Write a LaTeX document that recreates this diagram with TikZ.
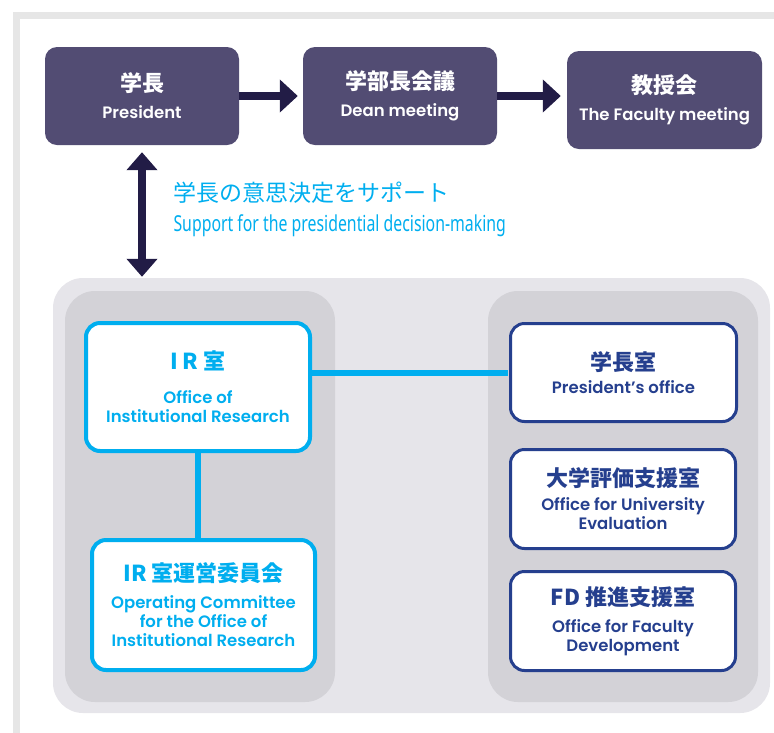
\documentclass[tikz,border=0pt]{standalone}
\usepackage{fontspec}
\setmainfont{Poppins}[BoldFont={Poppins SemiBold}]
\newfontfamily\jp{Noto Sans CJK JP}
\newfontfamily\narrow[FakeStretch=0.72]{Noto Sans}
\usetikzlibrary{arrows.meta}

\definecolor{boxpurple}{HTML}{524C73}
\definecolor{arrownavy}{HTML}{221C46}
\definecolor{ircyan}{HTML}{00AEEF}
\definecolor{officenavy}{HTML}{253F8E}
\definecolor{panellight}{HTML}{E6E5EA}
\definecolor{paneldark}{HTML}{D3D2D7}
\definecolor{framegray}{HTML}{E6E6E6}

\newcommand\jt[1]{{\jp\bfseries\fontsize{22}{24}\selectfont #1}}

\tikzset{
    topbox/.style={fill=boxpurple, text=white, rounded corners=12pt, align=center,
        minimum width=194pt, minimum height=98pt, inner sep=0pt,
        font=\bfseries\fontsize{16.5}{19}\selectfont},
    irbox/.style={draw=ircyan, line width=4pt, fill=white, text=ircyan, rounded corners=14pt,
        align=center, inner sep=0pt, font=\bfseries\fontsize{16.5}{19}\selectfont},
    officebox/.style={draw=officenavy, line width=3pt, fill=white, text=officenavy,
        rounded corners=14pt, align=center, inner sep=0pt,
        minimum width=226pt, minimum height=98pt, font=\bfseries\fontsize{16.5}{19}\selectfont},
    panel/.style={rounded corners=30pt, inner sep=0pt},
    bigarrow/.style={arrownavy, line width=8pt, -{Triangle[length=18pt,width=32pt]}},
    irline/.style={ircyan, line width=6pt},
}

\begin{document}
\begin{tikzpicture}[x=1pt,y=-1pt]
    \useasboundingbox (0,0) rectangle (774,732);

    % outer frame
    \draw[framegray, line width=7pt] (16.5,15.5) rectangle (800,760);

    % top row
    \node[topbox] (pres) at (142,96) {\jt{学長}\\[8pt]President};
    \node[topbox] (dean) at (400,96) {\jt{学部長会議}\\[8pt]Dean meeting};
    \node[topbox, minimum width=195pt] (fac) at (664.5,100) {\jt{教授会}\\[8pt]The Faculty meeting};

    \draw[bigarrow, shorten >=5pt] (pres.east) -- (dean.west);
    \draw[bigarrow, shorten >=6pt] (dean.east) -- (dean.east -| fac.west);

    % grey panels
    \node[panel, fill=panellight, minimum width=717pt, minimum height=435pt] (outer) at (411.5,495.5) {};
    \node[panel, fill=paneldark, minimum width=270pt, minimum height=411pt] (leftp) at (200,496.5) {};
    \node[panel, fill=paneldark, minimum width=270pt, minimum height=411pt] (rightp) at (623,496.5) {};

    % support for the president
    \draw[bigarrow, {Triangle[length=18pt,width=30pt]}-{Triangle[length=18pt,width=30pt]},
        shorten <=7pt, shorten >=1pt] (pres.south) -- (pres.south |- outer.north);
    \node[anchor=west, text=ircyan, font=\jp\fontsize{23}{25}\selectfont] (supjp) at (170,193)
        {学長の意思決定をサポート};
    \node[anchor=west, text=ircyan, font=\narrow\fontsize{22}{24}\selectfont] (supen) at (170,226)
        {Support for the presidential decision-making};

    % IR side
    \node[irbox, minimum width=224pt, minimum height=128pt] (ir) at (198,387)
        {\jt{I\kern4pt R\kern5pt 室}\\[15pt]Office of\\Institutional Research};
    \node[irbox, minimum width=223pt, minimum height=130pt] (opc) at (203.5,605)
        {\jt{IR\kern5pt 室運営委員会}\\[8pt]Operating Committee\\for the Office of\\Institutional Research};

    % offices
    \node[officebox] (po) at (623.5,372.5) {\jt{学長室}\\[4pt]President’s office};
    \node[officebox, minimum width=225pt, minimum height=99pt] (eval) at (623,499)
        {\jt{大学評価支援室}\\[5pt]Office for University\\Evaluation};
    \node[officebox, minimum width=225pt, minimum height=99pt] (fd) at (623,621)
        {\jt{FD\kern5pt 推進支援室}\\[8pt]Office for Faculty\\Development};

    % cyan links
    \draw[irline] (ir.south) -- (opc.north -| ir.south);
    \draw[irline, shorten >=1.5pt] (po.west -| ir.east) -- (po.west);
\end{tikzpicture}
\end{document}
